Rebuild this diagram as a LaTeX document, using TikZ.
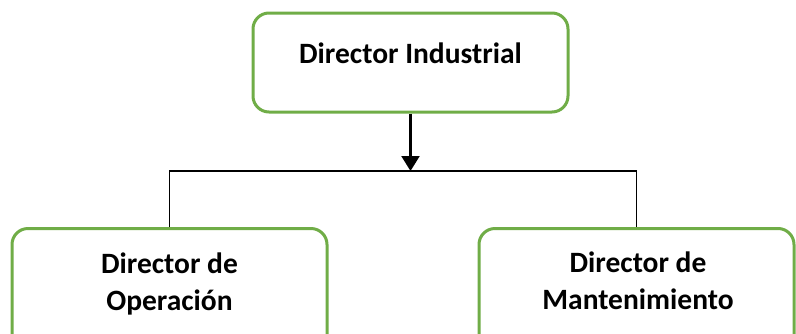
\documentclass[tikz,border=0pt]{standalone}
\usepackage{fontspec}
\setmainfont{Carlito}
\usetikzlibrary{arrows.meta}
\definecolor{boxgreen}{RGB}{112,173,71}
\begin{document}
\begin{tikzpicture}[x=1pt,y=-1pt,
  box/.style={draw=boxgreen, line width=3pt, rounded corners=16pt, minimum width=315pt, inner sep=0pt, fill=white},
  lbl/.style={font=\fontsize{29.5}{37}\selectfont\bfseries, align=center, inner sep=0pt},
  conn/.style={line width=1.5pt, black},
  arr/.style={line width=2.2pt, black, -{Triangle[width=18pt,length=15pt]}}]
\useasboundingbox (0,0) rectangle (796,333);
\node[box, minimum height=99pt] (top) at (410.5,62.5) {};
\node[lbl] (toptext) at (410.5,53) {Director Industrial};
\node[box, minimum height=130pt, anchor=north] (lbox) at (169.5,227) {};
\node[lbl] (ltext) at (169.5,283.5) {Director de\\Operación};
\node[box, minimum height=130pt, anchor=north] (rbox) at (636.5,227) {};
\node[lbl] (rtext) at (638,280.5) {Director de\\Mantenimiento};
\coordinate (j) at (410.5,171);
\draw[arr] (top.south) -- (j);
\draw[conn] (lbox.north) |- (j) -| (rbox.north);
\end{tikzpicture}
\end{document}
